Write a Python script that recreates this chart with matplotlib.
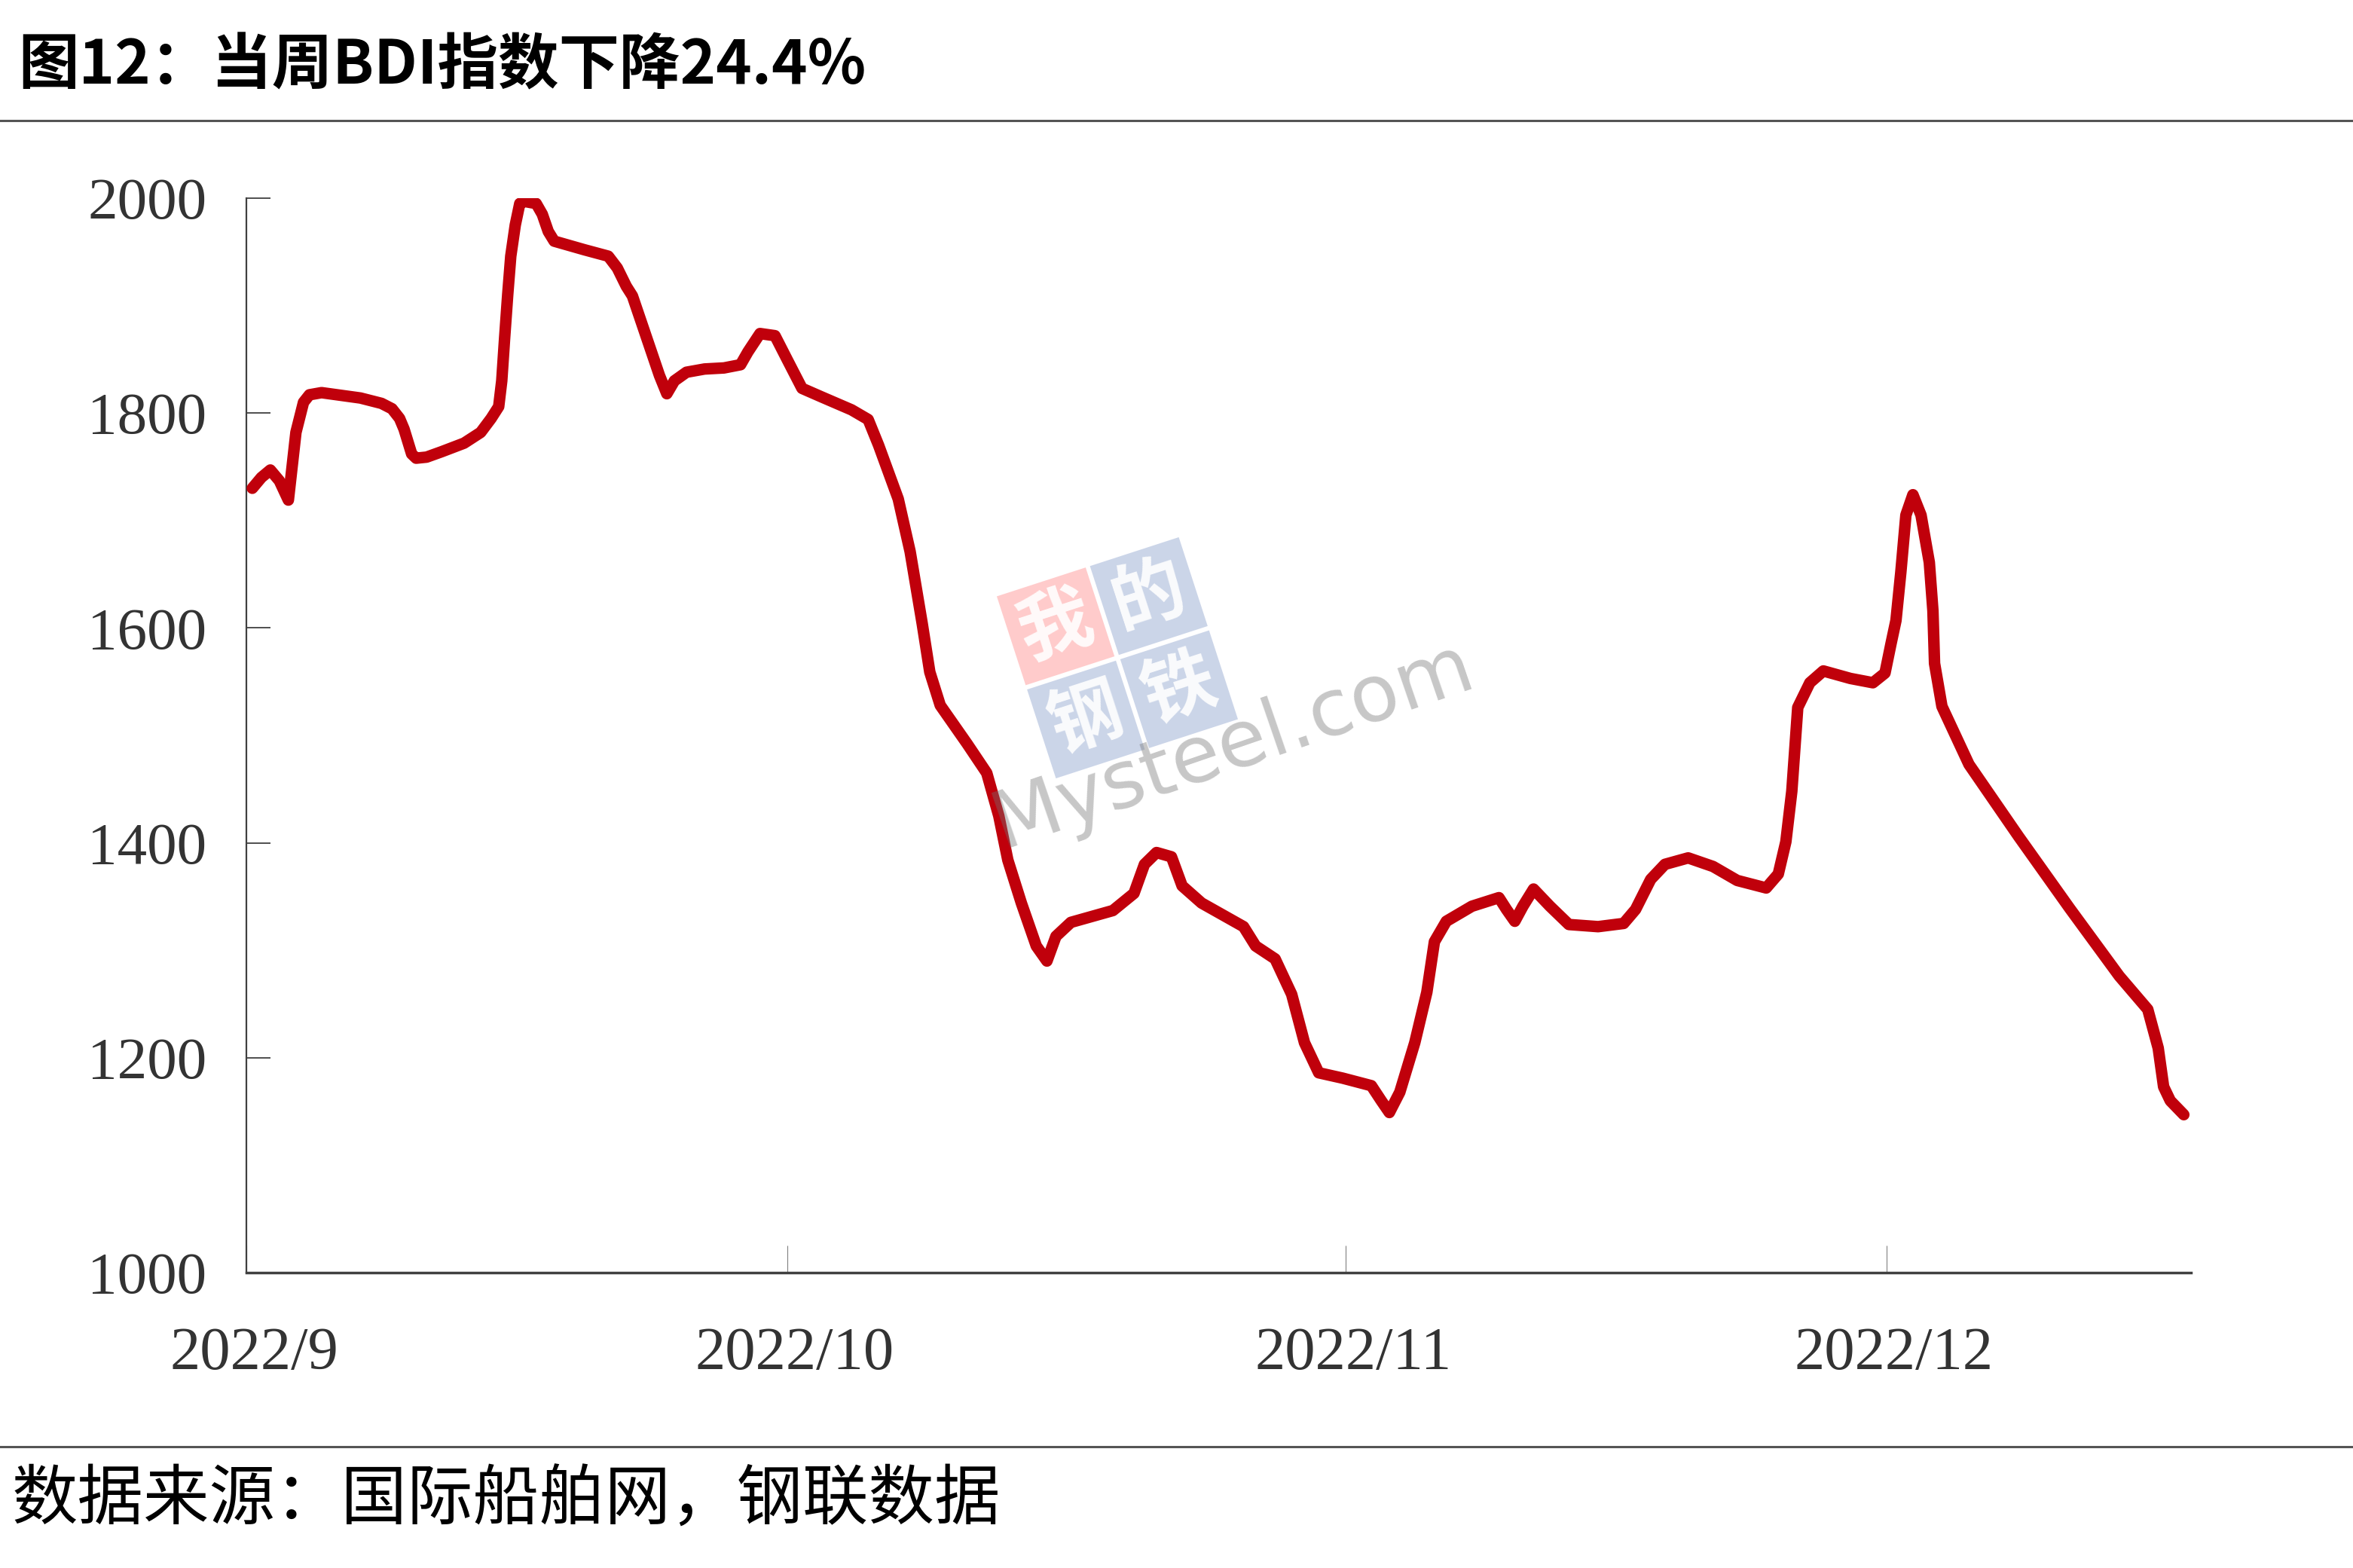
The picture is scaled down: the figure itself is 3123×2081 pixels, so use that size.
import numpy as np
import pandas as pd
import matplotlib
matplotlib.use('Agg')
import matplotlib.pyplot as plt
import matplotlib.transforms as mtransforms
from matplotlib.patches import Polygon

# BDI 指数: 距 2022-09-01 的天数, 指数值
day = [0.33, 0.83, 1.33, 1.83, 2.33, 2.75, 3.17, 3.5, 4.17, 6.33, 7.5, 8.08, 8.5, 8.75,
       9.17, 9.42, 10.0, 10.83, 12.08, 13.0, 13.58, 14.0, 14.17, 14.33, 14.5, 14.67,
       14.92, 15.17, 15.42, 16.08, 16.42, 16.75, 17.08, 17.5, 18.75, 20.08, 20.58,
       21.08, 21.42, 22.25, 22.92, 23.33, 23.75, 24.42, 25.42, 26.5, 27.42, 27.83,
       28.5, 29.33, 30.0, 30.83, 31.92, 33.58, 34.5, 35.08, 36.17, 36.83, 37.5, 37.92,
       38.5, 40.0, 41.08, 41.75, 42.25, 43.0, 43.83, 44.42, 44.92, 45.75, 48.08, 49.25,
       49.83, 50.5, 51.33, 51.92, 53.0, 55.33, 56.0, 57.08, 58.0, 58.71, 59.5, 60.83,
       62.42, 62.97, 63.42, 64.0, 64.83, 65.5, 65.92, 66.58, 68.0, 69.5, 69.92, 70.38,
       70.83, 71.42, 72.33, 73.38, 75.0, 76.42, 77.08, 77.92, 78.71, 80.0, 81.38, 82.72,
       84.33, 85.0, 85.42, 85.75, 86.08, 86.75, 87.5, 89.0, 90.25, 90.92, 91.25, 91.53,
       91.8, 92.08, 92.47, 92.92, 93.38, 93.58, 93.67, 94.08, 95.58, 98.33, 101.17,
       103.92, 105.5, 106.08, 106.38, 106.75, 107.5]
bdi = [1730, 1740, 1747, 1737, 1719, 1782, 1810, 1817, 1819, 1814, 1809, 1804, 1795, 1785,
       1762, 1758, 1759, 1764, 1772, 1782, 1795, 1806, 1830, 1870, 1910, 1946,
       1975, 1995, 1997, 1995, 1985, 1969, 1960, 1958, 1952, 1946, 1935,
       1918, 1909, 1868, 1835, 1818, 1830, 1838, 1841, 1842, 1845, 1857,
       1874, 1872, 1850, 1823, 1815, 1803, 1794, 1770, 1720, 1671, 1604, 1559,
       1528, 1492, 1465, 1425, 1384, 1344, 1304, 1290, 1313, 1326, 1337, 1353,
       1380, 1391, 1387, 1360, 1344, 1322, 1304, 1292, 1259, 1214, 1186, 1181,
       1174, 1160, 1149, 1168, 1214, 1261, 1308, 1327, 1341, 1349, 1338, 1327,
       1341, 1357, 1341, 1324, 1322, 1325, 1338, 1366, 1380, 1386, 1378, 1365,
       1358, 1371, 1401, 1448, 1526, 1549, 1560, 1553, 1549, 1558, 1585, 1607,
       1652, 1705, 1724, 1705, 1661, 1616, 1567, 1527, 1473, 1406, 1339,
       1276, 1245, 1209, 1173, 1160, 1147]

start = pd.Timestamp('2022-09-01')
tick_dates = ['2022-09-01', '2022-10-01', '2022-11-01', '2022-12-01']
tick_labels = ['2022/9', '2022/10', '2022/11', '2022/12']
y_ticks = [1000, 1200, 1400, 1600, 1800, 2000]

title = '图12：当周BDI指数下降24.4%'
source = '数据来源：国际船舶网，钢联数据'
logo_chars = ['我', '的', '钢', '铁']

cjk = ['Noto Sans CJK SC', 'DejaVu Sans']
W, H = 3123, 2081

fig = plt.figure(figsize=(W / 100, H / 100), dpi=100)
ax = fig.add_axes([327 / W, 1 - 1689 / H, (2908 - 327) / W, (1689 - 263) / H])

dates = start + pd.to_timedelta(day, unit='D')
ax.plot(dates, bdi, color='#C0000B', lw=11, solid_joinstyle='round', solid_capstyle='round', zorder=3)

ax.set_ylim(1000, 2000)
ax.set_xlim(start, start + pd.Timedelta(days=107.9))
ax.set_yticks(y_ticks)
ax.set_yticklabels([str(v) for v in y_ticks])
ax.set_xticks(pd.to_datetime(tick_dates))
ax.set_xticklabels(tick_labels)

for s in ['top', 'right']:
    ax.spines[s].set_visible(False)
ax.spines['left'].set_color('#404040')
ax.spines['left'].set_linewidth(1.6)
ax.spines['bottom'].set_color('#404040')
ax.spines['bottom'].set_linewidth(2.5)

ax.tick_params(axis='y', direction='in', length=23, width=1.3, color='#404040', pad=38,
               labelsize=57, labelcolor='#333333')
ax.tick_params(axis='x', direction='in', length=26, width=0.8, color='#808080', pad=52,
               labelsize=58, labelcolor='#333333')
for lab in ax.get_xticklabels() + ax.get_yticklabels():
    lab.set_fontfamily('Liberation Serif')
# x 轴标签略微右移
shift = mtransforms.ScaledTranslation(0.1, 0, fig.dpi_scale_trans)
for lab in ax.get_xticklabels():
    lab.set_transform(lab.get_transform() + shift)

# 标题、来源和分隔线
fig.text(24 / W, 1 - 88 / H, title, fontsize=58, fontweight='bold', family=cjk,
         ha='left', va='center', color='black')
fig.text(16 / W, 1 - 1992 / H, source, fontsize=63, family=cjk,
         ha='left', va='center', color='black')
fig.add_artist(plt.Line2D([0, 1], [1 - 160 / H, 1 - 160 / H], color='#555555', lw=2.2))
fig.add_artist(plt.Line2D([0, 1], [1 - 1920 / H, 1 - 1920 / H], color='#555555', lw=2.2))

# 水印 (我的钢铁 Mysteel.com)
wm = fig.add_axes([0, 0, 1, 1], zorder=5)
wm.set_xlim(0, W)
wm.set_ylim(H, 0)
wm.axis('off')
wm.patch.set_alpha(0)

cx, cy = 1483, 873
th = np.deg2rad(18)
u = np.array([np.cos(th), -np.sin(th)])
v = np.array([np.sin(th), np.cos(th)])
size, gap = 124, 6
off = (size + gap) / 2
block_cols = [(1.0, 0.2, 0.2, 0.25), (0.2, 0.35, 0.65, 0.25),
              (0.2, 0.35, 0.65, 0.25), (0.2, 0.35, 0.65, 0.25)]
centers = [(-off, -off), (off, -off), (-off, off), (off, off)]
for ch, col, (a, b) in zip(logo_chars, block_cols, centers):
    c = np.array([cx, cy]) + a * u + b * v
    h = size / 2
    pts = [c - h * u - h * v, c + h * u - h * v, c + h * u + h * v, c - h * u + h * v]
    wm.add_patch(Polygon(pts, closed=True, facecolor=col, edgecolor='none'))
    wm.text(c[0], c[1], ch, fontsize=70, fontweight='bold', family=cjk, color='white',
            ha='center', va='center', rotation=18, rotation_mode='anchor', alpha=0.9)

wm.text(1330, 1125, 'Mysteel.com', fontsize=76, family='DejaVu Sans', color=(0.45, 0.45, 0.45),
        alpha=0.4, ha='left', va='baseline', rotation=19, rotation_mode='anchor')

fig.savefig('out.png', dpi=100, facecolor='white')
